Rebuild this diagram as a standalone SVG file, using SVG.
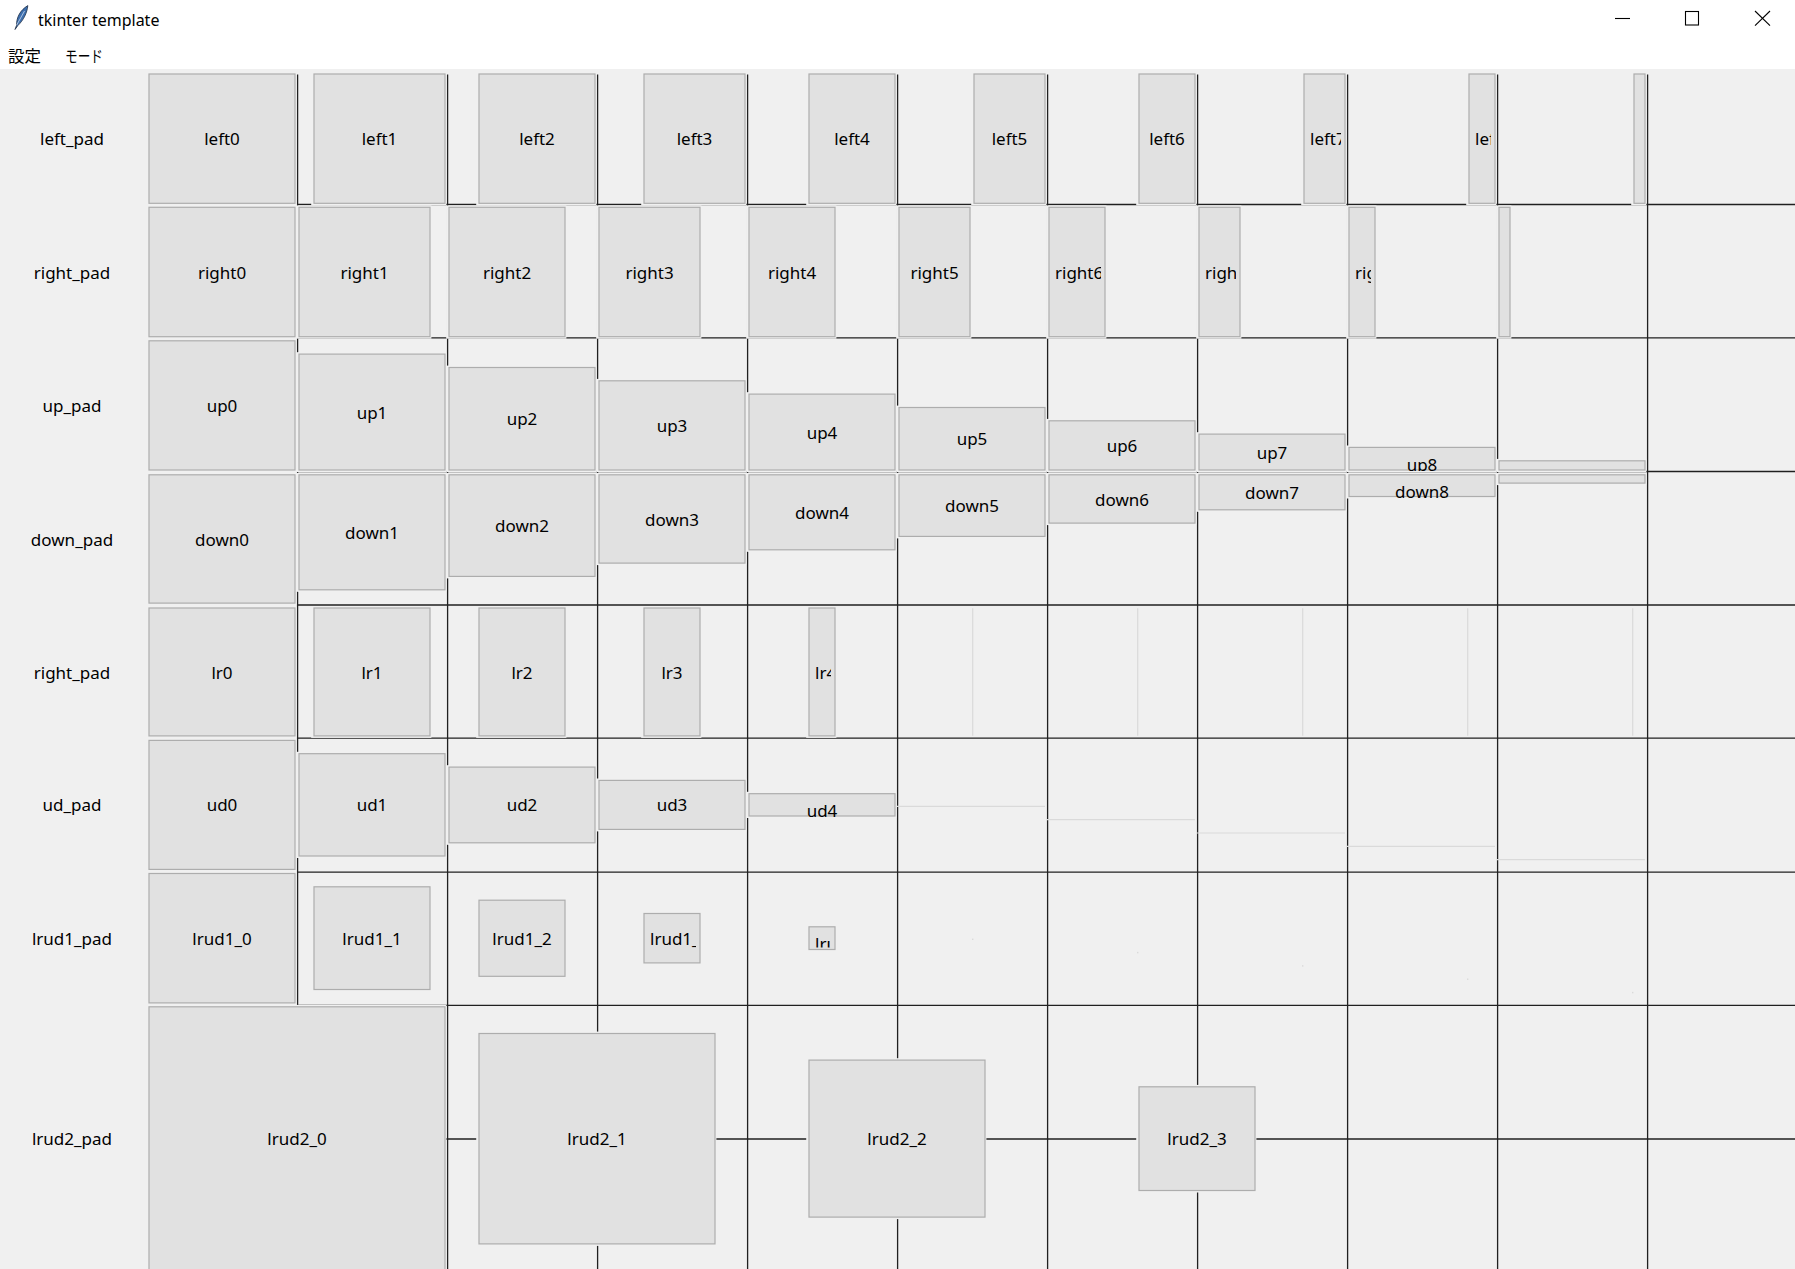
<svg xmlns="http://www.w3.org/2000/svg" width="1795" height="1269" viewBox="0 0 1795 1269">
<style>
.win{fill:#ffffff}
.bg{fill:#f0f0f0}
.rim{fill:#f0f0f0}
.btn{fill:#e1e1e1;stroke:#adadad;stroke-width:1.2}
.t{font-family:"Noto Sans","Liberation Sans",sans-serif;font-size:17px;fill:#000}
.c{text-anchor:middle}
.gl{stroke:#202020;stroke-width:1.3;fill:none}
.fl{stroke:#dadada;stroke-width:1.2;fill:none}
.dot{fill:#dadada}
.wb{stroke:#000;stroke-width:1.1;fill:none}
.cjk{font-family:"Noto Sans CJK JP","Noto Sans",sans-serif;font-size:16px;fill:#000}
</style>
<defs>
<clipPath id="c-left7"><rect x="1308" y="76" width="33" height="125.3"/></clipPath>
<clipPath id="c-left8"><rect x="1473" y="76" width="18" height="125.3"/></clipPath>
<clipPath id="c-right6"><rect x="1053" y="209.3" width="48" height="125.4"/></clipPath>
<clipPath id="c-right7"><rect x="1203" y="209.3" width="33" height="125.4"/></clipPath>
<clipPath id="c-right8"><rect x="1353" y="209.3" width="18" height="125.4"/></clipPath>
<clipPath id="c-up8"><rect x="1353" y="449.4" width="138" height="21.6"/></clipPath>
<clipPath id="c-down8"><rect x="1353" y="476.8" width="138" height="22.7"/></clipPath>
<clipPath id="c-lr4"><rect x="813" y="610" width="18" height="123.9"/></clipPath>
<clipPath id="c-ud4"><rect x="753" y="795.7" width="138" height="23"/></clipPath>
<clipPath id="c-lrud1_3"><rect x="648" y="915.5" width="48" height="45.4"/></clipPath>
<clipPath id="c-lrud1_4"><rect x="813" y="928.8" width="18" height="18.7"/></clipPath>
</defs>

<g id="window-chrome">
<rect class="win" x="0" y="0" width="1795" height="69"/>
<path d="M15,29.5 L16.6,25.2 C16.4,17 20.5,10 27.8,5.6 C27.2,12.5 23.6,20.2 17.8,25.6 Z" fill="#3d6fae" stroke="#1c2c45" stroke-width="0.8"/>
<path d="M16.6,25.2 L24.5,11" stroke="#c9d8ee" stroke-width="0.8" fill="none"/>
<text class="t" x="38" y="26" style="font-size:16px">tkinter template</text>
<line class="wb" x1="1615" y1="18.5" x2="1630" y2="18.5"/>
<rect class="wb" x="1685.5" y="11.5" width="13" height="13.5"/>
<line class="wb" x1="1755" y1="11" x2="1770" y2="25.7"/>
<line class="wb" x1="1770" y1="11" x2="1755" y2="25.7"/>
<text class="cjk" x="8" y="62" textLength="33" lengthAdjust="spacingAndGlyphs">設定</text>
<text class="cjk" x="65" y="62" textLength="38" lengthAdjust="spacingAndGlyphs">モード</text>
</g>

<rect class="bg" x="0" y="69" width="1795" height="1200"/>

<g id="grid-lines">
<line class="gl" x1="297" y1="204.5" x2="1795" y2="204.5"/>
<line class="gl" x1="297" y1="337.9" x2="1795" y2="337.9"/>
<line class="gl" x1="297" y1="471.5" x2="1795" y2="471.5"/>
<line class="gl" x1="297" y1="605" x2="1795" y2="605"/>
<line class="gl" x1="297" y1="738.2" x2="1795" y2="738.2"/>
<line class="gl" x1="297" y1="872.2" x2="1795" y2="872.2"/>
<line class="gl" x1="297" y1="1005.4" x2="1795" y2="1005.4"/>
<line class="gl" x1="297" y1="1139" x2="1795" y2="1139"/>
<line class="gl" x1="297.6" y1="74.5" x2="297.6" y2="1269"/>
<line class="gl" x1="447.6" y1="74.5" x2="447.6" y2="1269"/>
<line class="gl" x1="597.6" y1="74.5" x2="597.6" y2="1269"/>
<line class="gl" x1="747.6" y1="74.5" x2="747.6" y2="1269"/>
<line class="gl" x1="897.6" y1="74.5" x2="897.6" y2="1269"/>
<line class="gl" x1="1047.6" y1="74.5" x2="1047.6" y2="1269"/>
<line class="gl" x1="1197.6" y1="74.5" x2="1197.6" y2="1269"/>
<line class="gl" x1="1347.6" y1="74.5" x2="1347.6" y2="1269"/>
<line class="gl" x1="1497.6" y1="74.5" x2="1497.6" y2="1269"/>
<line class="gl" x1="1647.6" y1="74.5" x2="1647.6" y2="1269"/>
</g>

<g id="row-labels">
<text class="t c" x="72" y="145.2">left_pad</text>
<text class="t c" x="72" y="278.5">right_pad</text>
<text class="t c" x="72" y="411.9">up_pad</text>
<text class="t c" x="72" y="545.5">down_pad</text>
<text class="t c" x="72" y="678.5">right_pad</text>
<text class="t c" x="72" y="811.4">ud_pad</text>
<text class="t c" x="72" y="944.7">lrud1_pad</text>
<text class="t c" x="72" y="1145.2">lrud2_pad</text>
</g>

<!-- left_pad row -->
<g id="left0"><rect class="rim" x="146.2" y="72.1" width="150.2" height="133.2"/><rect class="btn" x="149" y="74" width="146" height="129.3"/><text class="t c" x="222" y="145.2">left0</text></g>
<g id="left1"><rect class="rim" x="311.2" y="72.1" width="135.2" height="133.2"/><rect class="btn" x="314" y="74" width="131" height="129.3"/><text class="t c" x="379.5" y="145.2">left1</text></g>
<g id="left2"><rect class="rim" x="476.2" y="72.1" width="120.2" height="133.2"/><rect class="btn" x="479" y="74" width="116" height="129.3"/><text class="t c" x="537" y="145.2">left2</text></g>
<g id="left3"><rect class="rim" x="641.2" y="72.1" width="105.2" height="133.2"/><rect class="btn" x="644" y="74" width="101" height="129.3"/><text class="t c" x="694.5" y="145.2">left3</text></g>
<g id="left4"><rect class="rim" x="806.2" y="72.1" width="90.2" height="133.2"/><rect class="btn" x="809" y="74" width="86" height="129.3"/><text class="t c" x="852" y="145.2">left4</text></g>
<g id="left5"><rect class="rim" x="971.2" y="72.1" width="75.2" height="133.2"/><rect class="btn" x="974" y="74" width="71" height="129.3"/><text class="t c" x="1009.5" y="145.2">left5</text></g>
<g id="left6"><rect class="rim" x="1136.2" y="72.1" width="60.2" height="133.2"/><rect class="btn" x="1139" y="74" width="56" height="129.3"/><text class="t c" x="1167" y="145.2">left6</text></g>
<g id="left7"><rect class="rim" x="1301.2" y="72.1" width="45.2" height="133.2"/><rect class="btn" x="1304" y="74" width="41" height="129.3"/><text class="t" x="1310" y="145.2" clip-path="url(#c-left7)">left7</text></g>
<g id="left8"><rect class="rim" x="1466.2" y="72.1" width="30.2" height="133.2"/><rect class="btn" x="1469" y="74" width="26" height="129.3"/><text class="t" x="1475" y="145.2" clip-path="url(#c-left8)">left8</text></g>
<g id="left9"><rect class="rim" x="1631.2" y="72.1" width="15.2" height="133.2"/><rect class="btn" x="1634" y="74" width="11" height="129.3"/></g>

<!-- right_pad row -->
<g id="right0"><rect class="rim" x="146.2" y="205.4" width="150.2" height="133.3"/><rect class="btn" x="149" y="207.3" width="146" height="129.4"/><text class="t c" x="222" y="278.5">right0</text></g>
<g id="right1"><rect class="rim" x="296.2" y="205.4" width="135.2" height="133.3"/><rect class="btn" x="299" y="207.3" width="131" height="129.4"/><text class="t c" x="364.5" y="278.5">right1</text></g>
<g id="right2"><rect class="rim" x="446.2" y="205.4" width="120.2" height="133.3"/><rect class="btn" x="449" y="207.3" width="116" height="129.4"/><text class="t c" x="507" y="278.5">right2</text></g>
<g id="right3"><rect class="rim" x="596.2" y="205.4" width="105.2" height="133.3"/><rect class="btn" x="599" y="207.3" width="101" height="129.4"/><text class="t c" x="649.5" y="278.5">right3</text></g>
<g id="right4"><rect class="rim" x="746.2" y="205.4" width="90.2" height="133.3"/><rect class="btn" x="749" y="207.3" width="86" height="129.4"/><text class="t c" x="792" y="278.5">right4</text></g>
<g id="right5"><rect class="rim" x="896.2" y="205.4" width="75.2" height="133.3"/><rect class="btn" x="899" y="207.3" width="71" height="129.4"/><text class="t c" x="934.5" y="278.5">right5</text></g>
<g id="right6"><rect class="rim" x="1046.2" y="205.4" width="60.2" height="133.3"/><rect class="btn" x="1049" y="207.3" width="56" height="129.4"/><text class="t" x="1055" y="278.5" clip-path="url(#c-right6)">right6</text></g>
<g id="right7"><rect class="rim" x="1196.2" y="205.4" width="45.2" height="133.3"/><rect class="btn" x="1199" y="207.3" width="41" height="129.4"/><text class="t" x="1205" y="278.5" clip-path="url(#c-right7)">right7</text></g>
<g id="right8"><rect class="rim" x="1346.2" y="205.4" width="30.2" height="133.3"/><rect class="btn" x="1349" y="207.3" width="26" height="129.4"/><text class="t" x="1355" y="278.5" clip-path="url(#c-right8)">right8</text></g>
<g id="right9"><rect class="rim" x="1496.2" y="205.4" width="15.2" height="133.3"/><rect class="btn" x="1499" y="207.3" width="11" height="129.4"/></g>

<!-- up_pad row -->
<g id="up0"><rect class="rim" x="146.2" y="338.9" width="150.2" height="133.1"/><rect class="btn" x="149" y="340.8" width="146" height="129.2"/><text class="t c" x="222" y="411.9">up0</text></g>
<g id="up1"><rect class="rim" x="296.2" y="352.2" width="150.2" height="119.8"/><rect class="btn" x="299" y="354.1" width="146" height="115.9"/><text class="t c" x="372" y="418.6">up1</text></g>
<g id="up2"><rect class="rim" x="446.2" y="365.6" width="150.2" height="106.4"/><rect class="btn" x="449" y="367.5" width="146" height="102.5"/><text class="t c" x="522" y="425.3">up2</text></g>
<g id="up3"><rect class="rim" x="596.2" y="378.9" width="150.2" height="93.1"/><rect class="btn" x="599" y="380.8" width="146" height="89.2"/><text class="t c" x="672" y="431.9">up3</text></g>
<g id="up4"><rect class="rim" x="746.2" y="392.2" width="150.2" height="79.8"/><rect class="btn" x="749" y="394.1" width="146" height="75.9"/><text class="t c" x="822" y="438.6">up4</text></g>
<g id="up5"><rect class="rim" x="896.2" y="405.6" width="150.2" height="66.4"/><rect class="btn" x="899" y="407.5" width="146" height="62.5"/><text class="t c" x="972" y="445.3">up5</text></g>
<g id="up6"><rect class="rim" x="1046.2" y="418.9" width="150.2" height="53.1"/><rect class="btn" x="1049" y="420.8" width="146" height="49.2"/><text class="t c" x="1122" y="451.9">up6</text></g>
<g id="up7"><rect class="rim" x="1196.2" y="432.2" width="150.2" height="39.8"/><rect class="btn" x="1199" y="434.1" width="146" height="35.9"/><text class="t c" x="1272" y="458.6">up7</text></g>
<g id="up8"><rect class="rim" x="1346.2" y="445.5" width="150.2" height="26.5"/><rect class="btn" x="1349" y="447.4" width="146" height="22.6"/><text class="t c" x="1422" y="470.5" clip-path="url(#c-up8)">up8</text></g>
<g id="up9"><rect class="rim" x="1496.2" y="458.9" width="150.2" height="13.1"/><rect class="btn" x="1499" y="460.8" width="146" height="9.2"/></g>

<!-- down_pad row -->
<g id="down0"><rect class="rim" x="146.2" y="472.9" width="150.2" height="132.2"/><rect class="btn" x="149" y="474.8" width="146" height="128.3"/><text class="t c" x="222" y="545.5">down0</text></g>
<g id="down1"><rect class="rim" x="296.2" y="472.9" width="150.2" height="118.9"/><rect class="btn" x="299" y="474.8" width="146" height="115"/><text class="t c" x="372" y="538.8">down1</text></g>
<g id="down2"><rect class="rim" x="446.2" y="472.9" width="150.2" height="105.5"/><rect class="btn" x="449" y="474.8" width="146" height="101.6"/><text class="t c" x="522" y="532.1">down2</text></g>
<g id="down3"><rect class="rim" x="596.2" y="472.9" width="150.2" height="92.2"/><rect class="btn" x="599" y="474.8" width="146" height="88.3"/><text class="t c" x="672" y="525.5">down3</text></g>
<g id="down4"><rect class="rim" x="746.2" y="472.9" width="150.2" height="78.9"/><rect class="btn" x="749" y="474.8" width="146" height="75"/><text class="t c" x="822" y="518.8">down4</text></g>
<g id="down5"><rect class="rim" x="896.2" y="472.9" width="150.2" height="65.5"/><rect class="btn" x="899" y="474.8" width="146" height="61.6"/><text class="t c" x="972" y="512.1">down5</text></g>
<g id="down6"><rect class="rim" x="1046.2" y="472.9" width="150.2" height="52.2"/><rect class="btn" x="1049" y="474.8" width="146" height="48.3"/><text class="t c" x="1122" y="505.5">down6</text></g>
<g id="down7"><rect class="rim" x="1196.2" y="472.9" width="150.2" height="38.9"/><rect class="btn" x="1199" y="474.8" width="146" height="35"/><text class="t c" x="1272" y="498.8">down7</text></g>
<g id="down8"><rect class="rim" x="1346.2" y="472.9" width="150.2" height="25.6"/><rect class="btn" x="1349" y="474.8" width="146" height="21.7"/><text class="t c" x="1422" y="498.1" clip-path="url(#c-down8)">down8</text></g>
<g id="down9"><rect class="rim" x="1496.2" y="472.9" width="150.2" height="12.2"/><rect class="btn" x="1499" y="474.8" width="146" height="8.3"/></g>

<!-- lr row (labelled right_pad) -->
<g id="lr0"><rect class="rim" x="146.2" y="606.1" width="150.2" height="131.8"/><rect class="btn" x="149" y="608" width="146" height="127.9"/><text class="t c" x="222" y="678.5">lr0</text></g>
<g id="lr1"><rect class="rim" x="311.2" y="606.1" width="120.2" height="131.8"/><rect class="btn" x="314" y="608" width="116" height="127.9"/><text class="t c" x="372" y="678.5">lr1</text></g>
<g id="lr2"><rect class="rim" x="476.2" y="606.1" width="90.2" height="131.8"/><rect class="btn" x="479" y="608" width="86" height="127.9"/><text class="t c" x="522" y="678.5">lr2</text></g>
<g id="lr3"><rect class="rim" x="641.2" y="606.1" width="60.2" height="131.8"/><rect class="btn" x="644" y="608" width="56" height="127.9"/><text class="t c" x="672" y="678.5">lr3</text></g>
<g id="lr4"><rect class="rim" x="806.2" y="606.1" width="30.2" height="131.8"/><rect class="btn" x="809" y="608" width="26" height="127.9"/><text class="t" x="815" y="678.5" clip-path="url(#c-lr4)">lr4</text></g>
<g id="lr5"><line class="fl" x1="972.7" y1="608.2" x2="972.7" y2="735.7"/></g>
<g id="lr6"><line class="fl" x1="1137.7" y1="608.2" x2="1137.7" y2="735.7"/></g>
<g id="lr7"><line class="fl" x1="1302.7" y1="608.2" x2="1302.7" y2="735.7"/></g>
<g id="lr8"><line class="fl" x1="1467.7" y1="608.2" x2="1467.7" y2="735.7"/></g>
<g id="lr9"><line class="fl" x1="1632.7" y1="608.2" x2="1632.7" y2="735.7"/></g>

<!-- ud_pad row -->
<g id="ud0"><rect class="rim" x="146.2" y="738.5" width="150.2" height="132.9"/><rect class="btn" x="149" y="740.4" width="146" height="129"/><text class="t c" x="222" y="811.4">ud0</text></g>
<g id="ud1"><rect class="rim" x="296.2" y="751.8" width="150.2" height="106.2"/><rect class="btn" x="299" y="753.7" width="146" height="102.3"/><text class="t c" x="372" y="811.4">ud1</text></g>
<g id="ud2"><rect class="rim" x="446.2" y="765.2" width="150.2" height="79.6"/><rect class="btn" x="449" y="767.1" width="146" height="75.7"/><text class="t c" x="522" y="811.4">ud2</text></g>
<g id="ud3"><rect class="rim" x="596.2" y="778.5" width="150.2" height="52.9"/><rect class="btn" x="599" y="780.4" width="146" height="49"/><text class="t c" x="672" y="811.4">ud3</text></g>
<g id="ud4"><rect class="rim" x="746.2" y="791.8" width="150.2" height="26.2"/><rect class="btn" x="749" y="793.7" width="146" height="22.3"/><text class="t c" x="822" y="817.3" clip-path="url(#c-ud4)">ud4</text></g>
<g id="ud5"><line class="fl" x1="897" y1="806.3" x2="1045" y2="806.3"/></g>
<g id="ud6"><line class="fl" x1="1047" y1="819.6" x2="1195" y2="819.6"/></g>
<g id="ud7"><line class="fl" x1="1197" y1="833" x2="1345" y2="833"/></g>
<g id="ud8"><line class="fl" x1="1347" y1="846.3" x2="1495" y2="846.3"/></g>
<g id="ud9"><line class="fl" x1="1497" y1="859.6" x2="1645" y2="859.6"/></g>

<!-- lrud1_pad row -->
<g id="lrud1_0"><rect class="rim" x="146.2" y="871.6" width="150.2" height="133.3"/><rect class="btn" x="149" y="873.5" width="146" height="129.4"/><text class="t c" x="222" y="944.7">lrud1_0</text></g>
<g id="lrud1_1"><rect class="rim" x="311.2" y="884.9" width="120.2" height="106.6"/><rect class="btn" x="314" y="886.8" width="116" height="102.7"/><text class="t c" x="372" y="944.7">lrud1_1</text></g>
<g id="lrud1_2"><rect class="rim" x="476.2" y="898.3" width="90.2" height="80"/><rect class="btn" x="479" y="900.2" width="86" height="76.1"/><text class="t c" x="522" y="944.7">lrud1_2</text></g>
<g id="lrud1_3"><rect class="rim" x="641.2" y="911.6" width="60.2" height="53.3"/><rect class="btn" x="644" y="913.5" width="56" height="49.4"/><text class="t" x="650" y="944.7" clip-path="url(#c-lrud1_3)">lrud1_3</text></g>
<g id="lrud1_4"><rect class="rim" x="806.2" y="924.9" width="30.2" height="26.6"/><rect class="btn" x="809" y="926.8" width="26" height="22.7"/><text class="t" x="815" y="950.1" clip-path="url(#c-lrud1_4)">lrud1_4</text></g>
<g id="lrud1_5"><rect class="dot" x="972" y="938.6" width="1.4" height="1.4"/></g>
<g id="lrud1_6"><rect class="dot" x="1137" y="951.9" width="1.4" height="1.4"/></g>
<g id="lrud1_7"><rect class="dot" x="1302" y="965.2" width="1.4" height="1.4"/></g>
<g id="lrud1_8"><rect class="dot" x="1467" y="978.5" width="1.4" height="1.4"/></g>
<g id="lrud1_9"><rect class="dot" x="1632" y="991.9" width="1.4" height="1.4"/></g>

<!-- lrud2_pad row -->
<g id="lrud2_0"><rect class="rim" x="146.2" y="1004.9" width="300.2" height="267.6"/><rect class="btn" x="149" y="1006.8" width="296" height="263.7"/><text class="t c" x="297" y="1145.2">lrud2_0</text></g>
<g id="lrud2_1"><rect class="rim" x="476.2" y="1031.6" width="240.2" height="214.3"/><rect class="btn" x="479" y="1033.5" width="236" height="210.4"/><text class="t c" x="597" y="1145.2">lrud2_1</text></g>
<g id="lrud2_2"><rect class="rim" x="806.2" y="1058.2" width="180.2" height="160.9"/><rect class="btn" x="809" y="1060.1" width="176" height="157"/><text class="t c" x="897" y="1145.2">lrud2_2</text></g>
<g id="lrud2_3"><rect class="rim" x="1136.2" y="1084.9" width="120.2" height="107.6"/><rect class="btn" x="1139" y="1086.8" width="116" height="103.7"/><text class="t c" x="1197" y="1145.2">lrud2_3</text></g>
</svg>
